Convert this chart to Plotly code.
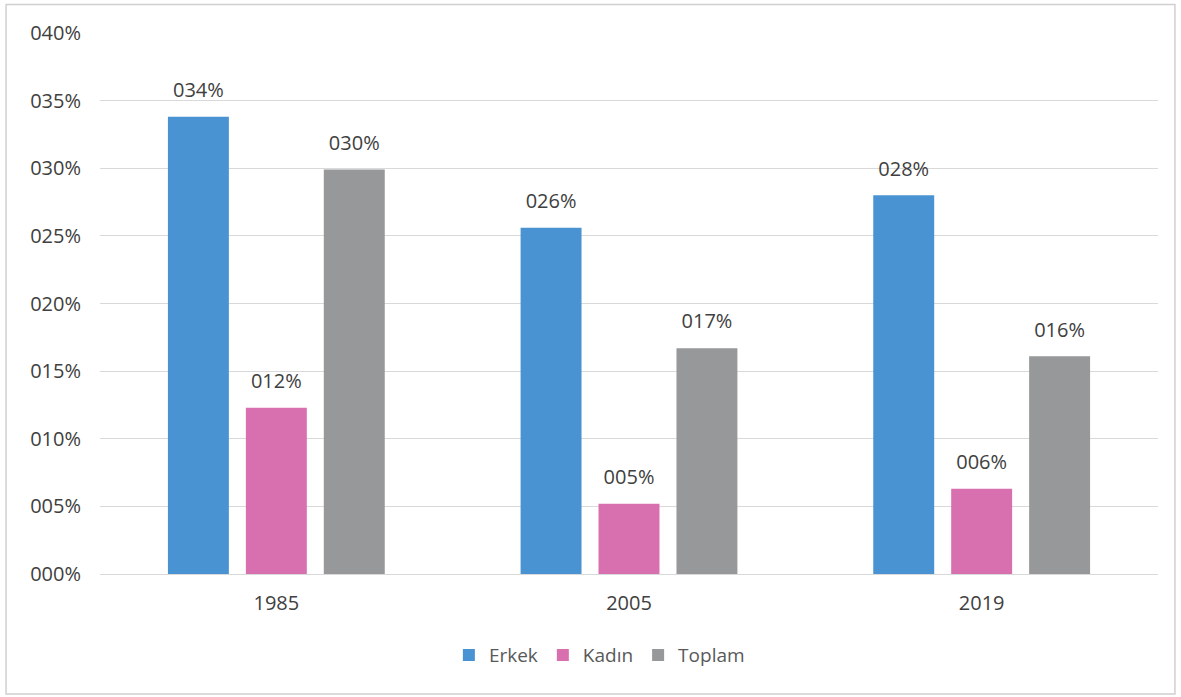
import plotly.graph_objects as go

years = ["1985", "2005", "2019"]
erkek = [33.8, 25.6, 28.0]
kadin = [12.3, 5.2, 6.3]
toplam = [29.9, 16.7, 16.1]
series_names = ["Erkek", "Kadın", "Toplam"]
colors = ["#4a93d3", "#d86fae", "#969899"]
yticks = [0, 5, 10, 15, 20, 25, 30, 35, 40]
ytick_labels = [f"{v:03d}%" for v in yticks]

font_family = "Open Sans, Noto Sans, DejaVu Sans, sans-serif"
text_color = "#404040"

fig = go.Figure()
for name, vals, col in zip(series_names, [erkek, kadin, toplam], colors):
    fig.add_trace(go.Bar(
        name=name, x=years, y=vals, marker_color=col, marker_line_width=0,
        offsetgroup=name, hoverinfo="x+y+name",
    ))
for name, vals in zip(series_names, [erkek, kadin, toplam]):
    fig.add_trace(go.Scatter(
        x=years, y=vals, mode="markers+text", offsetgroup=name,
        marker=dict(size=22, opacity=0, color="white"),
        text=[f"{round(v):03d}%" for v in vals], textposition="top center",
        textfont=dict(size=20, color=text_color, family=font_family),
        showlegend=False, hoverinfo="skip", cliponaxis=False,
    ))

fig.update_layout(
    width=1181, height=697,
    margin=dict(l=100, r=23, t=33, b=123),
    paper_bgcolor="white", plot_bgcolor="white",
    barmode="group", bargap=0.337, bargroupgap=0.218,
    scattermode="group", scattergap=0.337,
    font=dict(family=font_family, size=20, color=text_color),
    showlegend=True,
    legend=dict(orientation="h", x=0.472, xanchor="center", y=-0.15, yanchor="middle",
                font=dict(size=19, color="#595959"), itemwidth=30, traceorder="normal"),
    xaxis=dict(showgrid=False, showline=False, ticks="", ticklabelstandoff=15,
               tickfont=dict(size=20, color=text_color)),
    yaxis=dict(range=[0, 40], tickvals=yticks, ticktext=ytick_labels,
               showgrid=True, gridcolor="#d9d9d9", gridwidth=1,
               zeroline=True, zerolinecolor="#d9d9d9", zerolinewidth=1,
               showline=False, ticks="", ticklabelstandoff=18,
               tickfont=dict(size=20, color=text_color)),
    shapes=[dict(type="rect", xref="paper", yref="paper",
                 x0=-0.0888, x1=1.016, y0=-0.222, y1=1.0527,
                 line=dict(color="#d0d0d0", width=1.5), fillcolor="rgba(0,0,0,0)", layer="below")],
)

fig.write_html("out.html", config={"displayModeBar": False},
               post_script="document.body.style.margin='0';")
